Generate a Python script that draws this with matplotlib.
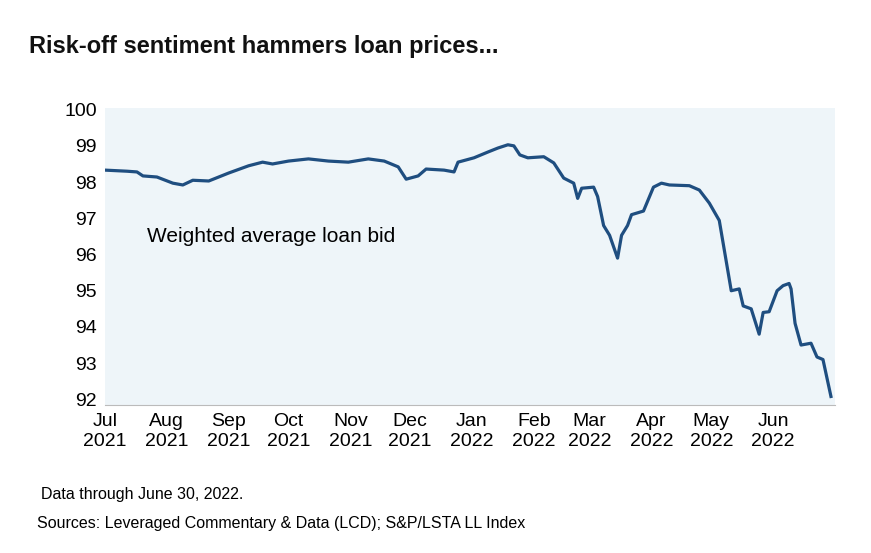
import matplotlib
matplotlib.use("Agg")
import matplotlib.pyplot as plt
import pandas as pd
from matplotlib import font_manager

dates = ["2021-07-01","2021-07-12","2021-07-17","2021-07-20","2021-07-27","2021-08-04","2021-08-09","2021-08-14",
"2021-08-22","2021-09-01","2021-09-11","2021-09-18","2021-09-23","2021-10-01","2021-10-11","2021-10-21","2021-10-31",
"2021-11-10","2021-11-18","2021-11-25","2021-11-29","2021-12-05","2021-12-09","2021-12-18","2021-12-23","2021-12-25",
"2022-01-02","2022-01-09","2022-01-14","2022-01-19","2022-01-22","2022-01-25","2022-01-29","2022-02-06","2022-02-11",
"2022-02-16","2022-02-21","2022-02-23","2022-02-25","2022-03-03","2022-03-05","2022-03-08","2022-03-11","2022-03-15",
"2022-03-17","2022-03-20","2022-03-22","2022-03-28","2022-04-02","2022-04-06","2022-04-10","2022-04-20","2022-04-25",
"2022-04-30","2022-05-05","2022-05-08","2022-05-11","2022-05-15","2022-05-17","2022-05-21","2022-05-25","2022-05-27",
"2022-05-30","2022-06-03","2022-06-06","2022-06-09","2022-06-10","2022-06-12","2022-06-15","2022-06-20","2022-06-23",
"2022-06-26","2022-06-30"]
values = [98.33,98.3,98.28,98.17,98.14,97.97,97.92,98.05,98.03,98.25,98.45,98.55,98.5,98.58,98.64,98.58,98.55,
98.64,98.58,98.42,98.08,98.17,98.36,98.33,98.28,98.55,98.67,98.83,98.94,99.03,99.0,98.75,98.67,98.7,98.53,
98.11,97.97,97.55,97.83,97.86,97.6,96.8,96.53,95.9,96.53,96.8,97.1,97.2,97.86,97.97,97.92,97.9,97.78,
97.42,96.94,95.97,95.0,95.05,94.58,94.5,93.8,94.4,94.42,95.0,95.14,95.2,95.05,94.1,93.5,93.55,93.17,93.1,92.08]
tick_months = pd.date_range("2021-07-01", "2022-06-01", freq="MS")
tick_labels = [d.strftime("%b\n%Y") for d in tick_months]

plt.rcParams['font.family'] = ['Liberation Sans', 'DejaVu Sans']
names = {f.name for f in font_manager.fontManager.ttflist}
title_font = 'Liberation Sans Narrow' if 'Liberation Sans Narrow' in names else 'Liberation Sans'

x = pd.to_datetime(dates)
fig = plt.figure(figsize=(8.71, 5.53), dpi=100)
ax = fig.add_axes([0.1206, 0.268, 0.838, 0.537])
ax.set_facecolor("#eef5f9")
ax.plot(x, values, color="#1f4e80", lw=2.3)
ax.set_xlim(pd.Timestamp("2021-07-01"), pd.Timestamp("2022-07-02"))
ax.set_ylim(91.85, 100.05)
ax.set_yticks(range(92, 101))
ax.set_xticks(tick_months)
ax.set_xticklabels(tick_labels)
ax.tick_params(length=0, labelsize=14, pad=6)
for s in ["top", "right", "left"]:
    ax.spines[s].set_visible(False)
ax.spines["bottom"].set_color("#bbbbbb")
ax.text(pd.Timestamp("2021-07-22"), 96.5, "Weighted average loan bid", fontsize=15, va="center")
fig.text(0.033, 0.905, "Risk-off sentiment hammers loan prices...", fontsize=19 if title_font.endswith("Narrow") else 17,
         fontweight="bold", color="#111111", family=title_font)
fig.text(0.047, 0.097, "Data through June 30, 2022.", fontsize=11.5)
fig.text(0.043, 0.045, "Sources: Leveraged Commentary & Data (LCD); S&P/LSTA LL Index", fontsize=11.5)
fig.savefig("out.png", dpi=100)
